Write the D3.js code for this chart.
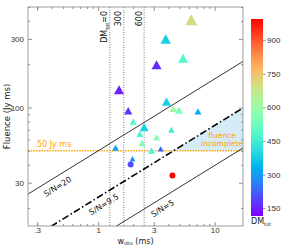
<!DOCTYPE html>
<html>
<head>
<meta charset="utf-8">
<script src="https://cdnjs.cloudflare.com/ajax/libs/d3/7.8.5/d3.min.js"></script>
<style>
  body { margin: 0; background: #fff; }
  svg { font-family: "DejaVu Sans", sans-serif; }
  .axis path { display: none; }
  .axis line { stroke: #777; stroke-width: 0.8; }
  .axis text { fill: #333; font-size: 8px; }
</style>
</head>
<body>
<div id="chart"></div>
<script>
// triangle markers (bursts)
var widths   = [6.3, 3.8, 5.35, 3.17, 1.51, 1.81, 2.0, 3.86, 4.39, 4.94, 7.19, 2.48, 2.28, 3.17, 4.25, 2.38, 2.87, 3.44, 1.41, 1.97];
var fluences = [407, 300, 220, 198, 133, 95, 80, 110, 98, 96, 94, 73, 65.6, 62, 70, 56.5, 50.2, 51.6, 52.5, 44];
var dms      = [705, 380, 485, 160, 150, 175, 485, 380, 610, 540, 325, 380, 465, 570, 450, 540, 465, 230, 310, 275];
var markSize = [12, 10.5, 10, 10, 10, 8.3, 7.3, 9.3, 7.3, 8, 7, 9, 7, 7, 6.5, 7, 7, 6, 6.7, 6];

// circle markers
var circleW  = [1.9, 4.34];
var circleF  = [40.2, 33.7];
var circleDM = [200, 995];

// S/N lines: fluence = k * sqrt(w)
var snValues = [20, 9.5, 5];
var snLabels = ["S/N=20", "S/N=9.5", "S/N=5"];
var dmLines  = [1.26, 1.66, 2.48];
var dmLabels = ["=0", "300", "600"];

var xTickLabels = [0.3, 1, 3, 10];
var yTickLabels = [30, 100, 300];
var cbarTicks   = [150, 300, 450, 600, 750, 900];

var svgWidth = 287, svgHeight = 246;
var plot = {left: 28, right: 243, top: 7, bottom: 226};

var svg = d3.select("#chart").append("svg")
  .attr("width", svgWidth)
  .attr("height", svgHeight);

var x = d3.scaleLog().domain([0.25, 17.5]).range([plot.left, plot.right]);
var y = d3.scaleLog().domain([15, 500]).range([plot.bottom, plot.top]);

// matplotlib "rainbow"
function rainbow(t) {
  var r = Math.min(1, Math.abs(2 * t - 0.5));
  var g = Math.sin(Math.PI * t);
  var b = Math.cos(Math.PI * t / 2);
  return d3.rgb(r * 255, g * 255, b * 255);
}
var dmMin = 115, dmMax = 995;
function dmColor(d) { return rainbow((d - dmMin) / (dmMax - dmMin)); }

svg.append("clipPath").attr("id", "clip")
  .append("rect")
  .attr("x", plot.left).attr("y", plot.top)
  .attr("width", plot.right - plot.left).attr("height", plot.bottom - plot.top);

var g = svg.append("g").attr("clip-path", "url(#clip)");

// fluence incomplete region
var kMid = 2.5 * 9.5;
var wCross = Math.pow(50 / kMid, 2);
var wEnd = x.domain()[1];
g.append("path")
  .attr("d", "M" + x(wCross) + "," + y(50) +
             "L" + x(wEnd) + "," + y(50) +
             "L" + x(wEnd) + "," + y(kMid * Math.sqrt(wEnd)) + "Z")
  .attr("fill", "#d5ebf6");

// DM vertical lines
g.selectAll(".dmline")
  .data(dmLines)
  .enter()
  .append("line")
  .attr("x1", d => x(d)).attr("x2", d => x(d))
  .attr("y1", plot.top).attr("y2", plot.bottom)
  .attr("stroke", "#555")
  .attr("stroke-width", 0.8)
  .attr("stroke-dasharray", "1,1.5");

// 50 Jy ms line
g.append("line")
  .attr("x1", plot.left).attr("x2", plot.right)
  .attr("y1", y(50)).attr("y2", y(50))
  .attr("stroke", "orange")
  .attr("stroke-width", 1.5)
  .attr("stroke-dasharray", "1.5,1.2");

// S/N lines
var snLine = d3.line()
  .x(d => x(d[0]))
  .y(d => y(d[1]));
snValues.forEach(function(sn, i) {
  var k = 2.5 * sn;
  var pts = [x.domain()[0], x.domain()[1]].map(w => [w, k * Math.sqrt(w)]);
  g.append("path")
    .attr("d", snLine(pts))
    .attr("fill", "none")
    .attr("stroke", "#000")
    .attr("stroke-width", i === 1 ? 1.6 : 0.8)
    .attr("stroke-dasharray", i === 1 ? "7,2.5,1.5,2.5" : null);
});

// S/N labels along lines
var angle = Math.atan((0.5 * (y(10) - y(100))) / (x(10) - x(1))) * 180 / Math.PI;
var snLabelW = [0.45, 1.12, 3.58];
snValues.forEach(function(sn, i) {
  var w = snLabelW[i];
  var px = x(w), py = y(2.5 * sn * Math.sqrt(w)) + 11;
  svg.append("text")
    .attr("transform", `translate(${px},${py}) rotate(${-angle})`)
    .attr("text-anchor", "middle")
    .attr("dominant-baseline", "central")
    .attr("font-size", "8px")
    .attr("fill", "#111")
    .text(snLabels[i]);
});

// triangles
var tri = d3.range(widths.length);
g.selectAll(".tri")
  .data(tri)
  .enter()
  .append("path")
  .attr("d", function(i) {
    var s = markSize[i], h = s * 0.9;
    return "M0," + (-h / 2) + "L" + (s / 2) + "," + (h / 2) + "L" + (-s / 2) + "," + (h / 2) + "Z";
  })
  .attr("transform", i => `translate(${x(widths[i])},${y(fluences[i])})`)
  .attr("fill", i => dmColor(dms[i]));

// circles
g.selectAll(".dot")
  .data(d3.range(circleW.length))
  .enter()
  .append("circle")
  .attr("cx", i => x(circleW[i]))
  .attr("cy", i => y(circleF[i]))
  .attr("r", 3)
  .attr("fill", i => dmColor(circleDM[i]));

// DM labels (rotated)
dmLines.forEach(function(d, i) {
  var t = svg.append("text")
    .attr("transform", `translate(${x(d) - 2.5},11) rotate(-90)`)
    .attr("text-anchor", "end")
    .attr("font-size", "8px")
    .attr("fill", "#111");
  if (i === 0) {
    t.append("tspan").text("DM");
    t.append("tspan").attr("font-size", "5px").attr("dy", 2).text("tot");
    t.append("tspan").attr("dy", -2).text(dmLabels[i]);
  } else {
    t.text(dmLabels[i]);
  }
});

// text annotations
svg.append("text")
  .attr("x", 37).attr("y", y(50) - 4)
  .attr("font-size", "8px")
  .attr("fill", "orange")
  .text("50 Jy ms");

svg.append("text")
  .attr("x", 222).attr("y", 138)
  .attr("text-anchor", "middle")
  .attr("font-size", "7.5px")
  .attr("fill", "orange")
  .text("fluence");
svg.append("text")
  .attr("x", 222).attr("y", 146)
  .attr("text-anchor", "middle")
  .attr("font-size", "7.5px")
  .attr("fill", "orange")
  .text("incomplete");

// axes
function minorTicks(lo, hi) {
  var out = [];
  for (var e = -1; e <= 3; e++) {
    for (var m = 1; m < 10; m++) {
      var v = m * Math.pow(10, e);
      if (v >= lo && v <= hi) out.push(v);
    }
  }
  return out;
}
var xMinor = minorTicks(0.25, 17.5).filter(v => xTickLabels.indexOf(v) < 0);
var yMinor = minorTicks(15, 500).filter(v => yTickLabels.indexOf(v) < 0);
var fmtX = d => d === 0.3 ? ".3" : String(d);

svg.append("g").attr("class", "axis")
  .attr("transform", `translate(0,${plot.bottom})`)
  .call(d3.axisBottom(x).tickValues(xTickLabels).tickSize(-4).tickPadding(1.5).tickFormat(fmtX));
svg.append("g").attr("class", "axis")
  .attr("transform", `translate(0,${plot.bottom})`)
  .call(d3.axisBottom(x).tickValues(xMinor).tickSize(-2).tickFormat(""));
svg.append("g").attr("class", "axis")
  .attr("transform", `translate(0,${plot.top})`)
  .call(d3.axisTop(x).tickValues(xTickLabels).tickSize(-4).tickFormat(""));
svg.append("g").attr("class", "axis")
  .attr("transform", `translate(0,${plot.top})`)
  .call(d3.axisTop(x).tickValues(xMinor).tickSize(-2).tickFormat(""));

svg.append("g").attr("class", "axis")
  .attr("transform", `translate(${plot.left},0)`)
  .call(d3.axisLeft(y).tickValues(yTickLabels).tickSize(-4).tickPadding(4).tickFormat(d3.format("d")));
svg.append("g").attr("class", "axis")
  .attr("transform", `translate(${plot.left},0)`)
  .call(d3.axisLeft(y).tickValues(yMinor).tickSize(-2).tickFormat(""));
svg.append("g").attr("class", "axis")
  .attr("transform", `translate(${plot.right},0)`)
  .call(d3.axisRight(y).tickValues(yTickLabels).tickSize(-4).tickFormat(""));
svg.append("g").attr("class", "axis")
  .attr("transform", `translate(${plot.right},0)`)
  .call(d3.axisRight(y).tickValues(yMinor).tickSize(-2).tickFormat(""));

// frame
svg.append("rect")
  .attr("x", plot.left).attr("y", plot.top)
  .attr("width", plot.right - plot.left).attr("height", plot.bottom - plot.top)
  .attr("fill", "none")
  .attr("stroke", "#888")
  .attr("stroke-width", 0.8);

// axis labels
var xl = svg.append("text")
  .attr("x", (plot.left + plot.right) / 2).attr("y", 243.5)
  .attr("text-anchor", "middle")
  .attr("font-size", "8px")
  .attr("fill", "#222");
xl.append("tspan").text("w");
xl.append("tspan").attr("font-size", "5px").attr("dy", 1.5).text("obs");
xl.append("tspan").attr("dy", -1.5).text(" (ms)");

svg.append("text")
  .attr("transform", `translate(10,${(plot.top + plot.bottom) / 2}) rotate(-90)`)
  .attr("text-anchor", "middle")
  .attr("font-size", "8.5px")
  .attr("fill", "#222")
  .text("Fluence (Jy ms)");

// colorbar
var cb = {x: 251, w: 12, top: 19, bottom: 216};
var cbScale = d3.scaleLinear().domain([dmMin, dmMax]).range([cb.bottom, cb.top]);
var grad = svg.append("defs").append("linearGradient")
  .attr("id", "cbgrad")
  .attr("x1", 0).attr("y1", 1).attr("x2", 0).attr("y2", 0);
d3.range(0, 1.0001, 0.05).forEach(function(t) {
  grad.append("stop").attr("offset", t).attr("stop-color", rainbow(t));
});
svg.append("rect")
  .attr("x", cb.x).attr("y", cb.top)
  .attr("width", cb.w).attr("height", cb.bottom - cb.top)
  .attr("fill", "url(#cbgrad)");
svg.append("g").attr("class", "axis")
  .attr("transform", `translate(${cb.x + cb.w},0)`)
  .call(d3.axisRight(cbScale).tickValues(cbarTicks).tickSize(2.5).tickPadding(1.5));

var cl = svg.append("text")
  .attr("x", cb.x).attr("y", 224)
  .attr("font-size", "8px")
  .attr("fill", "#222");
cl.append("tspan").text("DM");
cl.append("tspan").attr("font-size", "5px").attr("dy", 2).text("tot");
</script>
</body>
</html>
